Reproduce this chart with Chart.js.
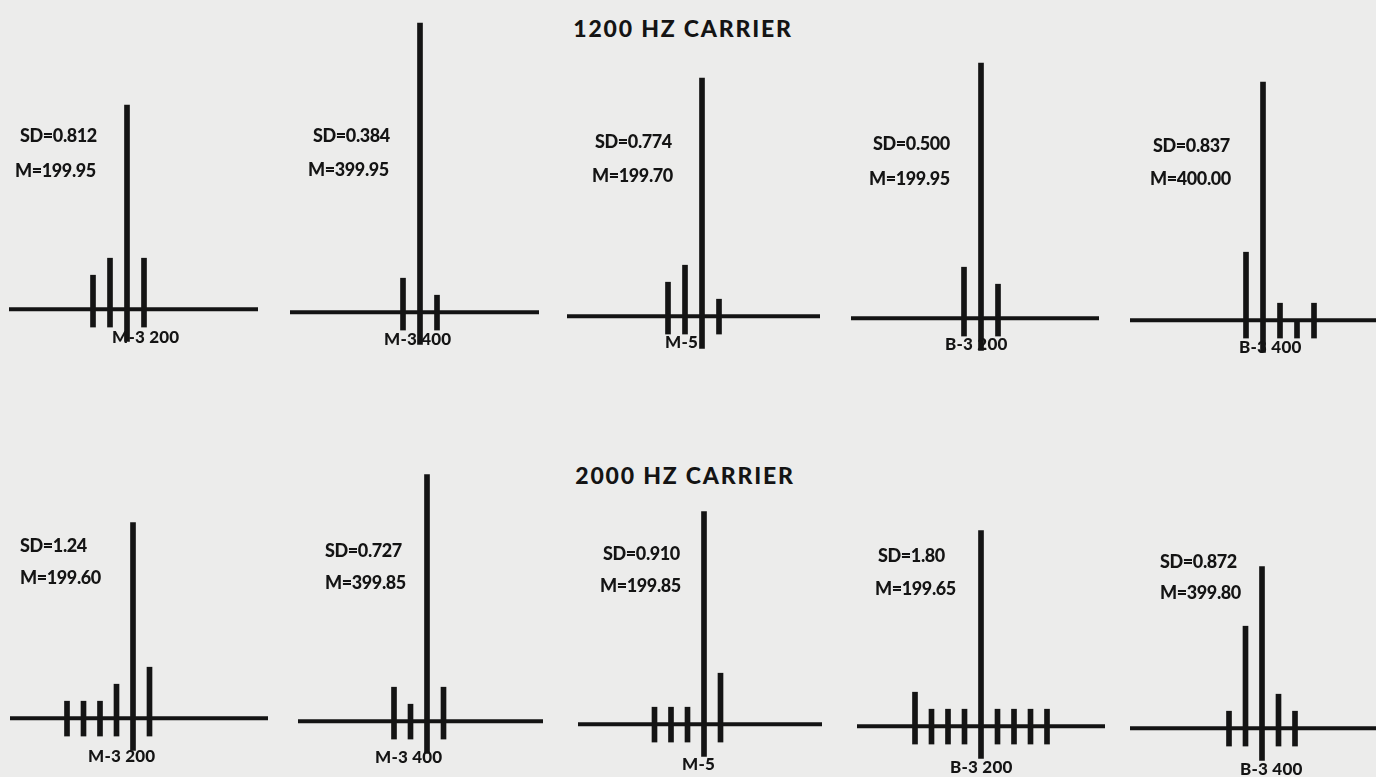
<!DOCTYPE html>
<html>
<head>
<meta charset="utf-8">
<script src="https://cdn.jsdelivr.net/npm/chart.js@4.4.1/dist/chart.umd.min.js"></script>
<style>
  html, body { margin: 0; padding: 0; }
  body {
    width: 1376px; height: 777px; position: relative; overflow: hidden;
    background: #ececeb; color: #141414;
    font-family: Lato, "DejaVu Sans", sans-serif; font-weight: 900;
  }
  canvas { position: absolute; }
  .txt { position: absolute; white-space: nowrap; line-height: 20px; }
  .stat { font-size: 18px; letter-spacing: -0.4px; }
  .name { font-size: 17px; letter-spacing: 0.2px; }
  .title { font-size: 23px; letter-spacing: 1.8px; }
</style>
</head>
<body>
<script>
const titles = ["1200 HZ CARRIER", "2000 HZ CARRIER"]
const panelNames = ["M-3 200", "M-3 400", "M-5", "B-3 200", "B-3 400",
                    "M-3 200", "M-3 400", "M-5", "B-3 200", "B-3 400"]
const sdValues = ["0.812", "0.384", "0.774", "0.500", "0.837",
                  "1.24", "0.727", "0.910", "1.80", "0.872"]
const meanValues = ["199.95", "399.95", "199.70", "199.95", "400.00",
                    "199.60", "399.85", "199.85", "199.65", "399.80"]

// bin offsets from the nominal frequency (0 = nominal bin)
const bins = [
  [-2, -1, 0, 1], [-1, 0, 1], [-2, -1, 0, 1], [-1, 0, 1], [-1, 0, 1, 2, 3],
  [-4, -3, -2, -1, 0, 1], [-2, -1, 0, 1], [-3, -2, -1, 0, 1],
  [-4, -3, -2, -1, 0, 1, 2, 3, 4], [-2, -1, 0, 1, 2]
]
// counts per bin
const counts = [
  [2, 3, 12, 3], [2, 17, 1], [2, 3, 14, 1], [3, 15, 2], [4, 14, 1, 0, 1],
  [1, 1, 1, 2, 11.5, 3], [2, 1, 14.5, 2], [1, 1, 1, 12.5, 3],
  [2, 1, 1, 1, 11.5, 1, 1, 1, 1], [1, 6, 9.5, 2, 1]
]

// tick marks below the baseline (in count units)
const TICK_DEPTH = 1.05
const NOMINAL_DEPTH = 1.9

const INK = "#141414"
const PX_PER_COUNT = 17
const CANVAS_H = 360
const Y_MIN = -2.4

// page layout: baseline extent, nominal bar x, baseline y, text spots
const layout = [
  { left: 9,    right: 258,  center: 127,  base: 309, step: 17,   sd: [20, 135],   m: [15, 170],   name: [112, 337] },
  { left: 290,  right: 539,  center: 420,  base: 312, step: 17,   sd: [313, 135],  m: [308, 169],  name: [384, 339] },
  { left: 567,  right: 820,  center: 702,  base: 316, step: 17,   sd: [595, 141],  m: [592, 175],  name: [665, 342] },
  { left: 851,  right: 1099, center: 981,  base: 318, step: 17,   sd: [873, 143],  m: [869, 178],  name: [945, 344] },
  { left: 1130, right: 1376, center: 1263, base: 320, step: 17,   sd: [1153, 145], m: [1150, 178], name: [1239, 347] },
  { left: 10,   right: 268,  center: 133,  base: 718, step: 16.5, sd: [20, 545],   m: [20, 577],   name: [88, 756] },
  { left: 298,  right: 543,  center: 427,  base: 721, step: 16.5, sd: [325, 550],  m: [325, 582],  name: [375, 757] },
  { left: 578,  right: 822,  center: 704,  base: 724, step: 16.5, sd: [603, 553],  m: [600, 585],  name: [682, 764] },
  { left: 857,  right: 1105, center: 981,  base: 726, step: 16.5, sd: [878, 555],  m: [875, 588],  name: [950, 767] },
  { left: 1130, right: 1376, center: 1262, base: 728, step: 16.5, sd: [1160, 561], m: [1160, 592], name: [1240, 769] }
]
const titlePos = [[683, 28], [685, 475]]

function addText(text, cls, x, y, centered) {
  const d = document.createElement("div")
  d.className = "txt " + cls
  d.textContent = text
  d.style.left = x + "px"
  d.style.top = (y - 10) + "px"
  if (centered) d.style.transform = "translateX(-50%)"
  document.body.appendChild(d)
}

titles.forEach((t, i) => addText(t, "title", titlePos[i][0], titlePos[i][1], true))

layout.forEach((p, i) => {
  const width = p.right - p.left
  const xMin = (p.left - p.center) / p.step
  const xMax = (p.right - p.center) / p.step
  const yMax = Y_MIN + CANVAS_H / PX_PER_COUNT
  const top = p.base - yMax * PX_PER_COUNT

  const canvas = document.createElement("canvas")
  canvas.width = width
  canvas.height = CANVAS_H
  canvas.style.left = p.left + "px"
  canvas.style.top = top + "px"
  canvas.style.width = width + "px"
  canvas.style.height = CANVAS_H + "px"
  document.body.appendChild(canvas)

  const barData = bins[i].map((b, j) => ({
    x: b,
    y: [b === 0 ? -NOMINAL_DEPTH : -TICK_DEPTH, counts[i][j]]
  }))

  new Chart(canvas, {
    type: "bar",
    data: {
      datasets: [
        {
          type: "line",
          data: [{ x: xMin, y: 0 }, { x: xMax, y: 0 }],
          borderColor: INK,
          borderWidth: 4,
          borderCapStyle: "butt",
          pointRadius: 0
        },
        {
          data: barData,
          backgroundColor: INK,
          borderWidth: 0,
          barThickness: 5
        }
      ]
    },
    options: {
      responsive: false,
      animation: false,
      events: [],
      layout: { padding: 0 },
      plugins: { legend: { display: false }, tooltip: { enabled: false } },
      scales: {
        x: { type: "linear", min: xMin, max: xMax, offset: false, display: false },
        y: { min: Y_MIN, max: yMax, display: false }
      }
    }
  })

  addText("SD=" + sdValues[i], "stat", p.sd[0], p.sd[1])
  addText("M=" + meanValues[i], "stat", p.m[0], p.m[1])
  addText(panelNames[i], "name", p.name[0], p.name[1])
})
</script>
</body>
</html>
